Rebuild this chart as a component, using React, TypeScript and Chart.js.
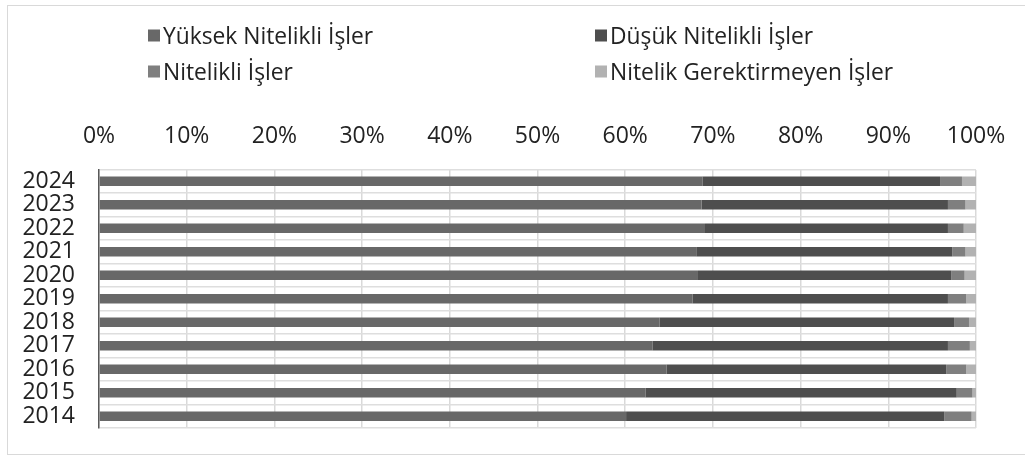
import React, { useEffect, useRef } from "react";
import { Chart, registerables } from "chart.js";

Chart.register(...registerables);

const years = ["2014", "2015", "2016", "2017", "2018", "2019", "2020", "2021", "2022", "2023", "2024"];
const yuksek = [60.1, 62.3, 64.7, 63.1, 63.9, 67.7, 68.3, 68.1, 69.1, 68.7, 68.8];
const dusuk = [36.3, 35.5, 31.9, 33.7, 33.6, 29.1, 28.9, 29.2, 27.7, 28.1, 27.1];
const nitelikli = [3.1, 1.8, 2.3, 2.5, 1.7, 2.1, 1.5, 1.5, 1.8, 2.0, 2.5];
const gerektirmeyen = [0.5, 0.4, 1.1, 0.7, 0.8, 1.1, 1.3, 1.2, 1.4, 1.2, 1.6];

const seriesNames = ["Yüksek Nitelikli İşler", "Düşük Nitelikli İşler", "Nitelikli İşler", "Nitelik Gerektirmeyen İşler"];
const seriesColors = ["#686868", "#4e4e4e", "#7f7f7f", "#b2b2b2"];

const FONT = "'Open Sans', 'Noto Sans', sans-serif";

export default function App() {
  const canvasRef = useRef<HTMLCanvasElement | null>(null);

  useEffect(() => {
    if (!canvasRef.current) return;
    const values = [yuksek, dusuk, nitelikli, gerektirmeyen];
    const chart = new Chart(canvasRef.current, {
      type: "bar",
      data: {
        labels: years,
        datasets: seriesNames.map((name, i) => ({
          label: name,
          data: values[i],
          backgroundColor: seriesColors[i],
          borderWidth: 0,
          categoryPercentage: 0.8,
          barPercentage: 0.5,
        })),
      },
      options: {
        indexAxis: "y",
        animation: false,
        responsive: false,
        maintainAspectRatio: false,
        layout: { padding: { left: 0, right: 49, top: 0, bottom: 29 } },
        plugins: {
          legend: { display: false },
          tooltip: { enabled: false },
        },
        scales: {
          x: {
            position: "top",
            stacked: true,
            min: 0,
            max: 100,
            afterFit: (s: any) => {
              s.height = 169.5;
              s.paddingLeft = 0;
              s.paddingRight = 0;
            },
            ticks: {
              stepSize: 10,
              padding: 19,
              color: "#222",
              maxRotation: 0,
              autoSkip: false,
              font: { family: FONT, size: 23 },
              callback: (v: any) => v + "%",
            },
            grid: { color: "#d9d9d9", drawTicks: false, lineWidth: 1.5 },
            border: { display: false },
          },
          y: {
            stacked: true,
            reverse: true,
            afterFit: (s: any) => {
              s.width = 99;
              s.paddingTop = 0;
              s.paddingBottom = 0;
            },
            ticks: {
              padding: 24,
              color: "#222",
              autoSkip: false,
              font: { family: FONT, size: 23 },
            },
            grid: { color: "#dedede", drawTicks: false, offset: true, lineWidth: 1.5 },
            border: { display: true, color: "#595959", width: 1.5 },
          },
        },
      },
    });
    return () => chart.destroy();
  }, []);

  const legendPos = [
    { left: 148, top: 35 },
    { left: 595, top: 35 },
    { left: 148, top: 71 },
    { left: 595, top: 71 },
  ];

  return (
    <div style={{ position: "fixed", left: 0, top: 0, width: 1025, height: 457, overflow: "hidden", background: "#fff" }}>
      <div
        style={{
          position: "absolute",
          left: 7,
          top: 5,
          width: 1040,
          height: 450,
          border: "1.5px solid #d9d9d9",
          boxSizing: "border-box",
        }}
      />
      <canvas ref={canvasRef} width={1025} height={457} style={{ position: "absolute", left: 0, top: 0 }} />
      {seriesNames.map((name, i) => (
        <div
          key={name}
          style={{
            position: "absolute",
            left: legendPos[i].left,
            top: legendPos[i].top,
            transform: "translateY(-50%)",
            display: "flex",
            alignItems: "center",
            fontFamily: FONT,
            fontSize: 22.8,
            color: "#222",
            whiteSpace: "nowrap",
          }}
        >
          <span style={{ display: "inline-block", width: 12, height: 12, background: seriesColors[i], marginRight: 3 }} />
          <span>{name}</span>
        </div>
      ))}
    </div>
  );
}
